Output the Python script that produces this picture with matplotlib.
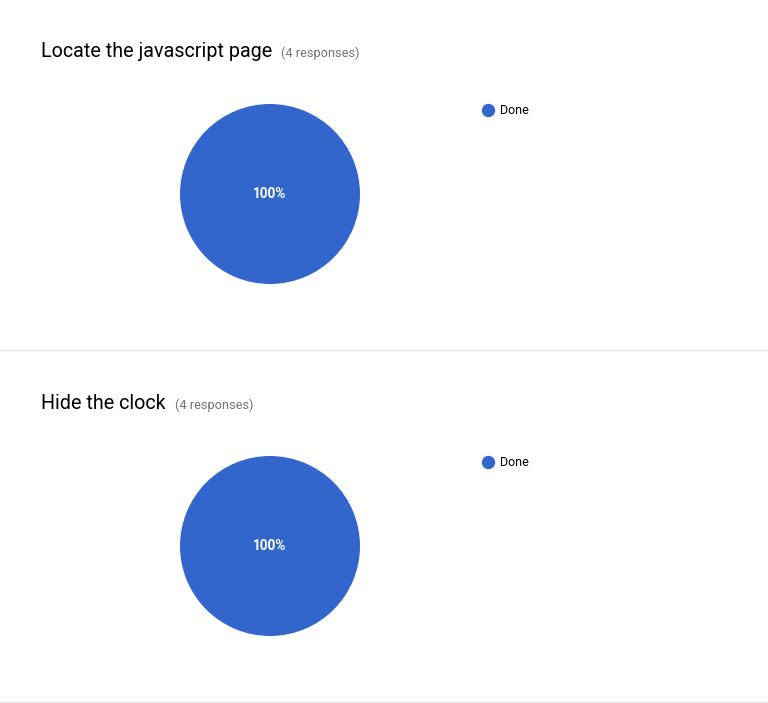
import matplotlib.pyplot as plt
from matplotlib.lines import Line2D

# Survey questions, one pie per question
questions = ["Locate the javascript page", "Hide the clock"]
responses = [4, 4]
categories = ["Done"]
counts = [[4], [4]]
colors = ["#3366CC"]

W, H = 768, 703
fig = plt.figure(figsize=(W / 100, H / 100), dpi=100)
plt.rcParams['font.family'] = ['Roboto', 'DejaVu Sans']

panel_h = 352
for i, q in enumerate(questions):
    top = i * panel_h
    # title and response count
    t = fig.text(41 / W, 1 - (top + 57) / H, q, fontsize=14.2, color="#000000",
                 va="baseline", ha="left")
    fig.canvas.draw()
    bb = t.get_window_extent()
    fig.text((bb.x1 + 9) / W, 1 - (top + 57) / H, "(%d responses)" % responses[i],
             fontsize=9.2, color="#757575", va="baseline", ha="left")

    # pie
    cx, cy, r = 270, top + 194, 90
    ax = fig.add_axes([(cx - r) / W, 1 - (cy + r) / H, 2 * r / W, 2 * r / H])
    ax.pie(counts[i], colors=colors, startangle=90, counterclock=False,
           radius=1, autopct=lambda p: "%d%%" % round(p),
           pctdistance=0 if len(counts[i]) == 1 else 0.6,
           textprops=dict(color="white", fontsize=9.8, fontweight="bold"),
           wedgeprops=dict(linewidth=0))
    ax.set_xlim(-1, 1)
    ax.set_ylim(-1, 1)
    ax.set_aspect("equal")
    ax.axis("off")

    # legend
    handles = [Line2D([], [], marker="o", linestyle="none", markersize=8.6,
                      markerfacecolor=c, markeredgecolor=c) for c in colors]
    fig.legend(handles, categories, loc="center left",
               bbox_to_anchor=(482 / W, 1 - (top + 110.5) / H),
               frameon=False, fontsize=9, handletextpad=0.48, borderpad=0,
               borderaxespad=0, handlelength=0.96)

    # separator line under each panel
    fig.add_artist(Line2D([0, 1], [1 - (top + 349.5) / H] * 2, transform=fig.transFigure,
                          color="#e6e6e6", linewidth=1))

fig.savefig("out.png", dpi=100)
